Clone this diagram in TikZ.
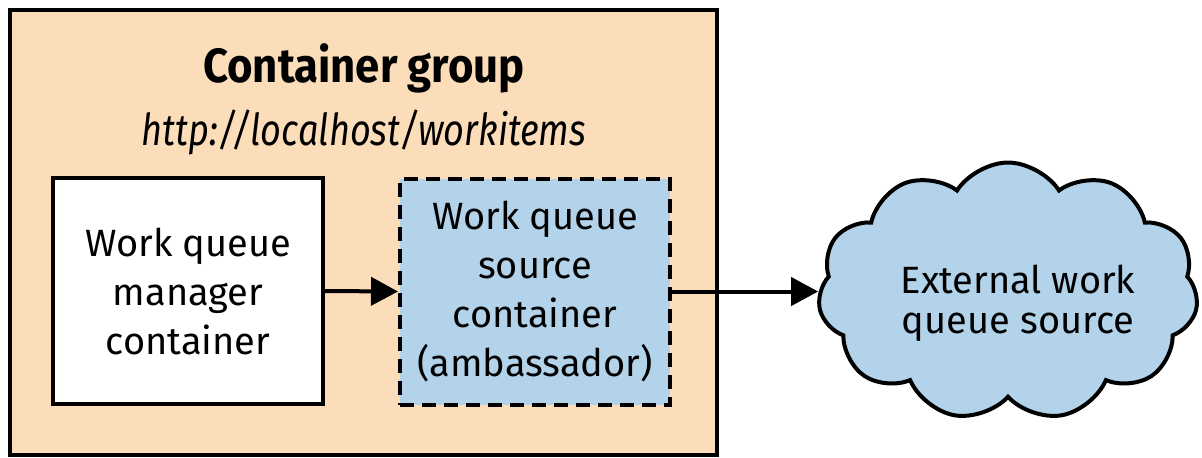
\documentclass[tikz,border=0pt]{standalone}
\usepackage{fontspec}
\setmainfont{Fira Sans}
\newfontfamily\titlefont{Fira Sans}[FakeStretch=0.91]
\newfontfamily\urlfont{Fira Sans}[FakeStretch=0.82]
\usetikzlibrary{shapes.symbols,arrows.meta}
\definecolor{peach}{RGB}{252,221,186}
\definecolor{sky}{RGB}{178,211,234}
\tikzset{
  box/.style={draw=black, line width=2pt, minimum width=135pt, minimum height=113pt, align=center, inner sep=0pt,
    font=\fontsize{19}{24.5}\selectfont},
  whitebox/.style={box, fill=white},
  ambbox/.style={box, fill=sky, dash pattern=on 7pt off 4pt},
  flow/.style={line width=2pt, -{Triangle[length=13.5pt,width=14pt]}},
  extcloud/.style={cloud, cloud puffs=11, cloud puff arc=115, aspect=1.5, draw=black, line width=2pt, fill=sky,
    minimum width=190pt, minimum height=129pt, inner sep=0pt},
  cloudtext/.style={align=center, inner sep=0pt, font=\fontsize{19}{20}\selectfont},
}
\begin{document}
\begin{tikzpicture}[x=0.5pt,y=-0.5pt]
\useasboundingbox (0,0) rectangle (1202,457);
\draw[line width=2.2pt, fill=peach] (10,10) rectangle (717,455);
\node[anchor=base, font=\fontsize{24}{30}\titlefont\bfseries] (title) at (364,82) {Container group};
\node[anchor=base, font=\fontsize{22}{28}\urlfont\itshape] (url) at (364,145) {http://localhost/workitems};
\node[whitebox] (mgr) at (188,291) {Work queue\\manager\\container};
\node[ambbox] (amb) at (535,291.5) {Work queue\\source\\container\\(ambassador)};
\node[extcloud] (ext) at (1008,291.5) {};
\node[cloudtext] (extlabel) at (1018,303) {External work\\queue source};
\draw[flow] (mgr.east) -- (amb.west);
\draw[flow] (amb.east) -- (amb.east -| ext.west);
\end{tikzpicture}
\end{document}
